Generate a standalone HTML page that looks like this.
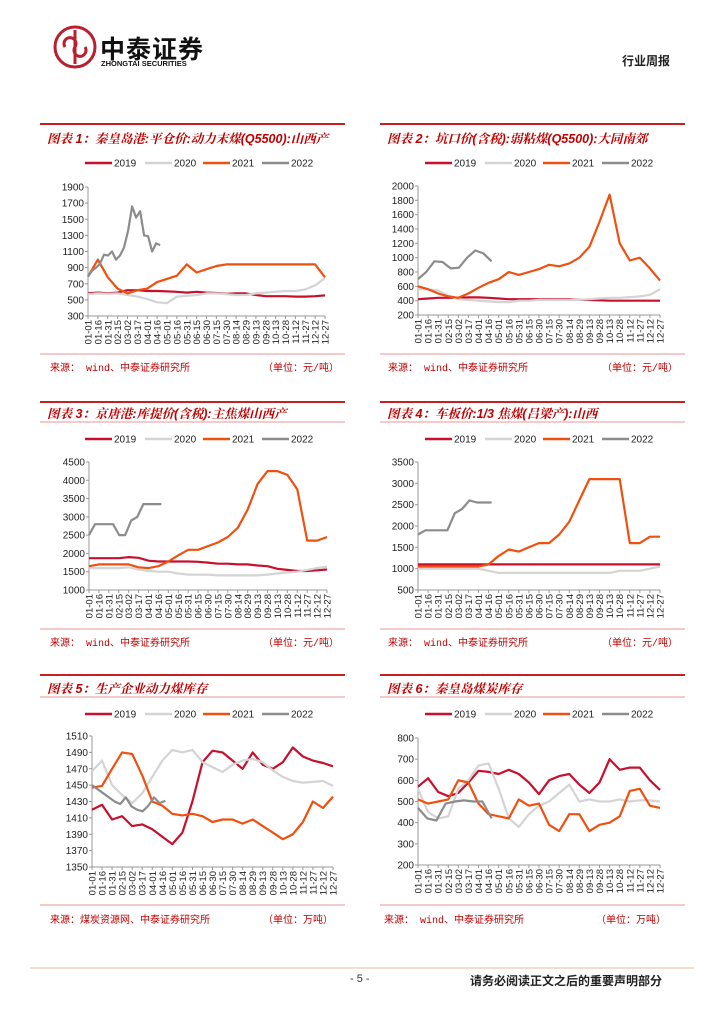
<!DOCTYPE html>
<html><head><meta charset="utf-8">
<style>
body{margin:0;background:#fff;}
#page{position:relative;width:724px;height:1024px;overflow:hidden;background:#fff;font-family:"Liberation Sans","Noto Sans CJK SC",sans-serif;}
.t{position:absolute;white-space:nowrap;}
.title{font-size:12.5px;font-weight:bold;font-style:italic;color:#c00000;font-family:"Liberation Sans","Noto Serif CJK SC",serif;}
.src{font-size:10px;color:#c00000;font-family:"Liberation Mono","Noto Sans CJK SC",monospace;}
</style></head><body>
<div id="page">
<svg id="logo" style="position:absolute;left:52px;top:24px" width="46" height="46" viewBox="0 0 46 46">
 <circle cx="23" cy="23" r="20" fill="none" stroke="#b8202e" stroke-width="3"/>
 <path d="M23 6 V40 M13 23 a6 6 0 1 1 10 0 a6 6 0 1 0 10 0" fill="none" stroke="#b8202e" stroke-width="3"/>
</svg>
<div class="t" style="left:100px;top:30px;font-size:25px;font-weight:bold;color:#111;letter-spacing:1px">中泰证券</div>
<div class="t" style="left:101px;top:59px;font-size:7.5px;font-weight:bold;color:#111">ZHONGTAI SECURITIES</div>
<div class="t" style="left:622px;top:52px;font-size:12px;font-weight:bold;color:#222">行业周报</div>

<div class="t title" style="left:47px;top:129px">图表 1：秦皇岛港:平仓价:动力末煤(Q5500):山西产</div>
<div class="t title" style="left:387px;top:129px">图表 2：坑口价(含税):弱粘煤(Q5500):大同南郊</div>
<div class="t title" style="left:47px;top:404px">图表 3：京唐港:库提价(含税):主焦煤山西产</div>
<div class="t title" style="left:387px;top:404px">图表 4：车板价:1/3 焦煤(吕梁产):山西</div>
<div class="t title" style="left:47px;top:679px">图表 5：生产企业动力煤库存</div>
<div class="t title" style="left:387px;top:679px">图表 6：秦皇岛煤炭库存</div>

<div class="t src" style="left:50px;top:359px">来源： wind、中泰证券研究所</div>
<div class="t src" style="left:263px;top:359px">（单位：元/吨）</div>
<div class="t src" style="left:388px;top:359px">来源： wind、中泰证券研究所</div>
<div class="t src" style="left:602px;top:359px">（单位：元/吨）</div>
<div class="t src" style="left:50px;top:634px">来源： wind、中泰证券研究所</div>
<div class="t src" style="left:263px;top:634px">（单位：元/吨）</div>
<div class="t src" style="left:388px;top:634px">来源： wind、中泰证券研究所</div>
<div class="t src" style="left:602px;top:634px">（单位：元/吨）</div>
<div class="t src" style="left:50px;top:911px">来源：煤炭资源网、中泰证券研究所</div>
<div class="t src" style="left:263px;top:911px">（单位：万吨）</div>
<div class="t src" style="left:384px;top:911px">来源： wind、中泰证券研究所</div>
<div class="t src" style="left:596px;top:911px">（单位：万吨）</div>

<div class="t" style="left:350px;top:973px;font-size:11px;color:#333">- 5 -</div>
<div class="t" style="left:470px;top:972px;font-size:12px;font-weight:bold;color:#222">请务必阅读正文之后的重要声明部分</div>

<svg id="main" style="position:absolute;left:0;top:0" width="724" height="1024"></svg>
</div>
<script>
const xLabels=["01-01","01-16","01-31","02-15","03-02","03-17","04-01","04-16","05-01","05-16","05-31","06-15","06-30","07-15","07-30","08-14","08-29","09-13","09-28","10-13","10-28","11-12","11-27","12-12","12-27"];
const years=["2019","2020","2021","2022"];
const span2022=7.3;

const c1Ticks=[300,500,700,900,1100,1300,1500,1700,1900];
const c1_2019=[580,590,580,590,620,620,610,610,605,600,590,600,590,585,575,580,580,560,545,545,545,540,540,545,555];
const c1_2020=[570,580,575,580,560,540,510,470,460,540,550,560,580,580,570,560,560,580,590,600,610,610,630,680,770];
const c1_2021=[790,1000,780,640,580,620,640,720,760,800,940,840,880,920,940,940,940,940,940,940,940,940,940,940,780];
const c1_2022=[790,860,900,950,1060,1050,1100,1000,1050,1150,1350,1660,1520,1600,1300,1290,1100,1200,1180];

const c2Ticks=[200,400,600,800,1000,1200,1400,1600,1800,2000];
const c2_2019=[420,430,440,440,440,445,445,440,430,420,420,420,420,420,420,420,410,410,405,400,400,400,400,400,400];
const c2_2020=[560,560,540,470,420,410,400,390,380,380,400,400,410,410,410,410,410,420,430,440,440,450,460,480,560];
const c2_2021=[600,560,500,460,440,500,580,650,700,800,760,800,840,900,880,920,1000,1150,1500,1880,1200,960,1000,850,680];
const c2_2022=[700,800,950,940,850,860,1000,1100,1060,950];

const c3Ticks=[1000,1500,2000,2500,3000,3500,4000,4500];
const c3_2019=[1870,1870,1870,1870,1900,1880,1800,1780,1780,1780,1780,1770,1750,1720,1720,1700,1700,1670,1650,1580,1550,1520,1520,1540,1560];
const c3_2020=[1600,1600,1600,1600,1620,1560,1520,1500,1500,1450,1420,1420,1420,1400,1400,1400,1400,1400,1420,1450,1480,1500,1550,1600,1640];
const c3_2021=[1650,1700,1700,1700,1700,1620,1600,1650,1780,1950,2100,2100,2200,2300,2450,2700,3200,3900,4250,4250,4150,3750,2350,2350,2450];
const c3_2022=[2500,2800,2800,2800,2800,2500,2500,2900,3000,3350,3350,3350,3350];

const c4Ticks=[500,1000,1500,2000,2500,3000,3500];
const c4_2019=[1100,1100,1100,1100,1100,1100,1100,1100,1100,1100,1100,1100,1100,1100,1100,1100,1100,1100,1100,1100,1100,1100,1100,1100,1100];
const c4_2020=[1000,1000,1000,1000,1000,1000,1000,950,900,900,900,900,900,900,900,900,900,900,900,900,950,950,950,1000,1050];
const c4_2021=[1050,1050,1050,1050,1050,1050,1050,1100,1300,1450,1400,1500,1600,1600,1800,2100,2600,3100,3100,3100,3100,1600,1600,1750,1750];
const c4_2022=[1800,1900,1900,1900,1900,2300,2400,2600,2550,2550,2550];

const c5Ticks=[1350,1370,1390,1410,1430,1450,1470,1490,1510];
const c5_2019=[1420,1426,1408,1412,1400,1402,1396,1387,1378,1392,1430,1478,1492,1490,1480,1470,1490,1475,1470,1478,1496,1485,1480,1477,1473];
const c5_2020=[1467,1480,1450,1438,1428,1440,1460,1480,1493,1490,1493,1478,1472,1466,1475,1480,1482,1478,1468,1460,1455,1453,1454,1455,1449];
const c5_2021=[1447,1449,1470,1490,1488,1462,1430,1425,1415,1413,1415,1412,1405,1408,1408,1403,1408,1400,1392,1384,1390,1405,1430,1422,1436];
const c5_2022=[1450,1445,1440,1435,1430,1427,1435,1424,1420,1418,1425,1435,1428,1431];

const c6Ticks=[200,300,400,500,600,700,800];
const c6_2019=[570,610,545,525,540,590,645,640,630,650,630,590,535,600,620,630,580,540,590,700,650,660,660,600,555];
const c6_2020=[560,450,420,430,560,600,670,680,560,420,380,440,480,500,540,580,500,510,500,500,510,500,505,505,500];
const c6_2021=[510,490,500,510,600,590,490,440,430,420,510,480,490,390,360,440,440,360,390,400,430,550,560,480,470];
const c6_2022=[470,420,410,490,500,505,500,500,420];

const colors=["#c8102e","#d4d4d4","#f0500f","#8c8c8c"];
const NS="http://www.w3.org/2000/svg";
const svg=document.getElementById("main");
function mk(tag,attrs,parent){const e=document.createElementNS(NS,tag);for(const k in attrs)e.setAttribute(k,attrs[k]);(parent||svg).appendChild(e);return e;}

function chart(id,px,topLine,subLine,legendY,x0,x1,y0,y1,ticks,series,srcLine){
  const g=mk("g",{});
  
  
  const pw=305;
  mk("line",{x1:px,x2:px+pw,y1:topLine,y2:topLine,stroke:"#c00000","stroke-width":1.8},g);
  if(subLine) mk("line",{x1:px,x2:px+pw,y1:subLine,y2:subLine,stroke:"#e07070","stroke-width":0.8},g);
  mk("line",{x1:px,x2:px+pw,y1:srcLine,y2:srcLine,stroke:"#e07070","stroke-width":0.8},g);
  const lo=ticks[0],hi=ticks[ticks.length-1];
  const ys=v=>y1-(v-lo)/(hi-lo)*(y1-y0);
  const xs=i=>x0+i/(xLabels.length-1)*(x1-x0);
  const lx=[45,105,163,222];
  years.forEach((y,k)=>{
    const le=mk("g",{},g);
    
    
    mk("line",{x1:px+lx[k],x2:px+lx[k]+27,y1:legendY,y2:legendY,stroke:colors[k],"stroke-width":2.5},le);
    const t=mk("text",{x:px+lx[k]+29,y:legendY+3.5,"font-size":10,fill:"#222","font-family":"Liberation Sans, sans-serif"},le);t.textContent=y;
  });
  const ya=mk("line",{x1:x0,x2:x0,y1:y0,y2:y1,stroke:"#999","stroke-width":1},g);
  
  const xa=mk("line",{x1:x0,x2:x1,y1:y1,y2:y1,stroke:"#999","stroke-width":1},g);
  
  ticks.forEach(v=>{
    mk("line",{x1:x0-3,x2:x0,y1:ys(v),y2:ys(v),stroke:"#999"},g);
    const t=mk("text",{x:x0-4,y:ys(v)+3.5,"font-size":10,fill:"#222","text-anchor":"end","font-family":"Liberation Sans, sans-serif"},g);
    
    t.textContent=v;
  });
  xLabels.forEach((l,i)=>{
    mk("line",{x1:xs(i),x2:xs(i),y1:y1,y2:y1+3,stroke:"#999"},g);
    const t=mk("text",{x:0,y:0,"font-size":9.5,fill:"#222","text-anchor":"end","font-family":"Liberation Sans, sans-serif",transform:`translate(${xs(i)+3.5},${y1+4}) rotate(-90)`},g);
    
    t.textContent=l;
  });
  series.forEach((arr,k)=>{
    const span=k===3?span2022:xLabels.length-1;
    const pts=arr.map((v,i)=>{const xi=i/(arr.length-1)*span;return xs(xi).toFixed(1)+","+ys(v).toFixed(1);}).join(" ");
    const p=mk("polyline",{points:pts,fill:"none",stroke:colors[k],"stroke-width":2.2,"stroke-linejoin":"round"},g);
    
    
  });
}
chart("chart1",40,124,0,163,88,325,187,316,c1Ticks,[c1_2019,c1_2020,c1_2021,c1_2022],354);
chart("chart2",380,124,0,163,418,660,186,315,c2Ticks,[c2_2019,c2_2020,c2_2021,c2_2022],354);
chart("chart3",40,402,422,439,89,327,462,590,c3Ticks,[c3_2019,c3_2020,c3_2021,c3_2022],629);
chart("chart4",380,402,422,439,418,660,462,590,c4Ticks,[c4_2019,c4_2020,c4_2021,c4_2022],629);
chart("chart5",40,675,697,714,92,333,736,867,c5Ticks,[c5_2019,c5_2020,c5_2021,c5_2022],905);
chart("chart6",380,675,697,714,418,660,738,865,c6Ticks,[c6_2019,c6_2020,c6_2021,c6_2022],905);
const fl=mk("line",{x1:30,x2:694,y1:968,y2:968,stroke:"#e6b8a0","stroke-width":1});


</script>
</body></html>
